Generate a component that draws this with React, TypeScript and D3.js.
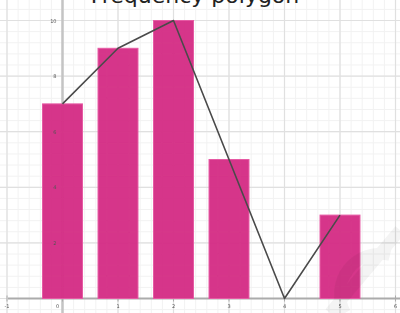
import React from "react";
import * as d3 from "d3";

const classes = [0, 1, 2, 3, 4, 5];
const frequencies = [7, 9, 10, 5, 0, 3];
const xTickLabels = ["-1", "0", "1", "2", "3", "4", "5", "6"];
const xTickValues = [-1, 0, 1, 2, 3, 4, 5, 6];
const yTickValues = [2, 4, 6, 8, 10];
const title = "Frequency polygon";

const W = 400;
const H = 313;

export default function App() {
  const x = d3.scaleLinear().domain([0, 1]).range([62.5, 118]);
  const y = d3.scaleLinear().domain([0, 10]).range([298.5, 20.5]);
  const xMin = x.invert(0);
  const xMax = x.invert(W);
  const yMin = y.invert(H);
  const yMax = y.invert(0);

  const minorX = d3.range(Math.ceil(xMin * 5), Math.floor(xMax * 5) + 1).map((v) => v / 5);
  const minorY = d3.range(Math.ceil(yMin * 2.5), Math.floor(yMax * 2.5) + 1).map((v) => v / 2.5);
  const majorX = d3.range(Math.ceil(xMin), Math.floor(xMax) + 1);
  const majorY = d3.range(Math.ceil(yMin / 2) * 2, yMax, 2);

  const barW = 0.72;
  const line = d3
    .line<number>()
    .x((_, i) => x(classes[i]))
    .y((d) => y(d));

  return (
    <svg
      width={W}
      height={H}
      style={{ position: "absolute", left: 0, top: 0, background: "#fff" }}
      fontFamily="DejaVu Sans, sans-serif"
    >
      <defs>
        <filter id="blur" x="-5%" y="-5%" width="110%" height="110%">
          <feGaussianBlur stdDeviation="0.6" />
        </filter>
      </defs>
      <g filter="url(#blur)">
        {minorX.map((v) => (
          <line key={"mx" + v} x1={x(v)} x2={x(v)} y1={0} y2={H} stroke="#f2f2f2" strokeWidth={1} />
        ))}
        {minorY.map((v) => (
          <line key={"my" + v} x1={0} x2={W} y1={y(v)} y2={y(v)} stroke="#f2f2f2" strokeWidth={1} />
        ))}
        {majorX.map((v) => (
          <line key={"Mx" + v} x1={x(v)} x2={x(v)} y1={0} y2={H} stroke="#e0e0e0" strokeWidth={1.2} />
        ))}
        {majorY.map((v) => (
          <line key={"My" + v} x1={0} x2={W} y1={y(v)} y2={y(v)} stroke="#e0e0e0" strokeWidth={1.2} />
        ))}
        {/* axes */}
        <line x1={x(0)} x2={x(0)} y1={0} y2={H} stroke="#c4c4c4" strokeWidth={2.5} />
        <line x1={x(xMin) + 8} x2={W} y1={y(0)} y2={y(0)} stroke="#ababab" strokeWidth={2} />
        {xTickValues.map((v) => (
          <line key={"xt" + v} x1={x(v)} x2={x(v)} y1={y(0) - 3} y2={y(0) + 3} stroke="#ababab" strokeWidth={1} />
        ))}
        {/* bars */}
        {frequencies.map((f, i) =>
          f > 0 ? (
            <rect
              key={"b" + i}
              x={x(classes[i] - barW / 2)}
              y={y(f)}
              width={x(barW) - x(0)}
              height={y(0) - y(f)}
              fill="#d52f86"
              fillOpacity={0.97}
              stroke="#e65aa4"
              strokeWidth={1}
            />
          ) : null
        )}
        {/* polygon */}
        <path d={line(frequencies) || ""} fill="none" stroke="#4a4a4a" strokeWidth={1.6} strokeLinejoin="round" />
        {/* tick labels */}
        {xTickValues.map((v, i) => (
          <text
            key={"xl" + v}
            x={v === 0 ? x(v) - 5 : x(v)}
            y={y(0) + 9}
            fontSize={5}
            textAnchor="middle"
            fill="#555"
          >
            {xTickLabels[i]}
          </text>
        ))}
        {yTickValues.map((v) => (
          <text key={"yl" + v} x={x(0) - 6} y={y(v) + 2} fontSize={5} textAnchor="end" fill="#555">
            {v}
          </text>
        ))}
        {/* faint watermark */}
        <g opacity={0.045} fill="none" stroke="#000" strokeWidth={12}>
          <path d="M 330 313 L 400 230" />
          <path d="M 345 313 A 40 40 0 0 1 390 255" />
        </g>
      </g>
      <text x={195} y={3} fontSize={22} textAnchor="middle" fill="#222">
        {title}
      </text>
    </svg>
  );
}
